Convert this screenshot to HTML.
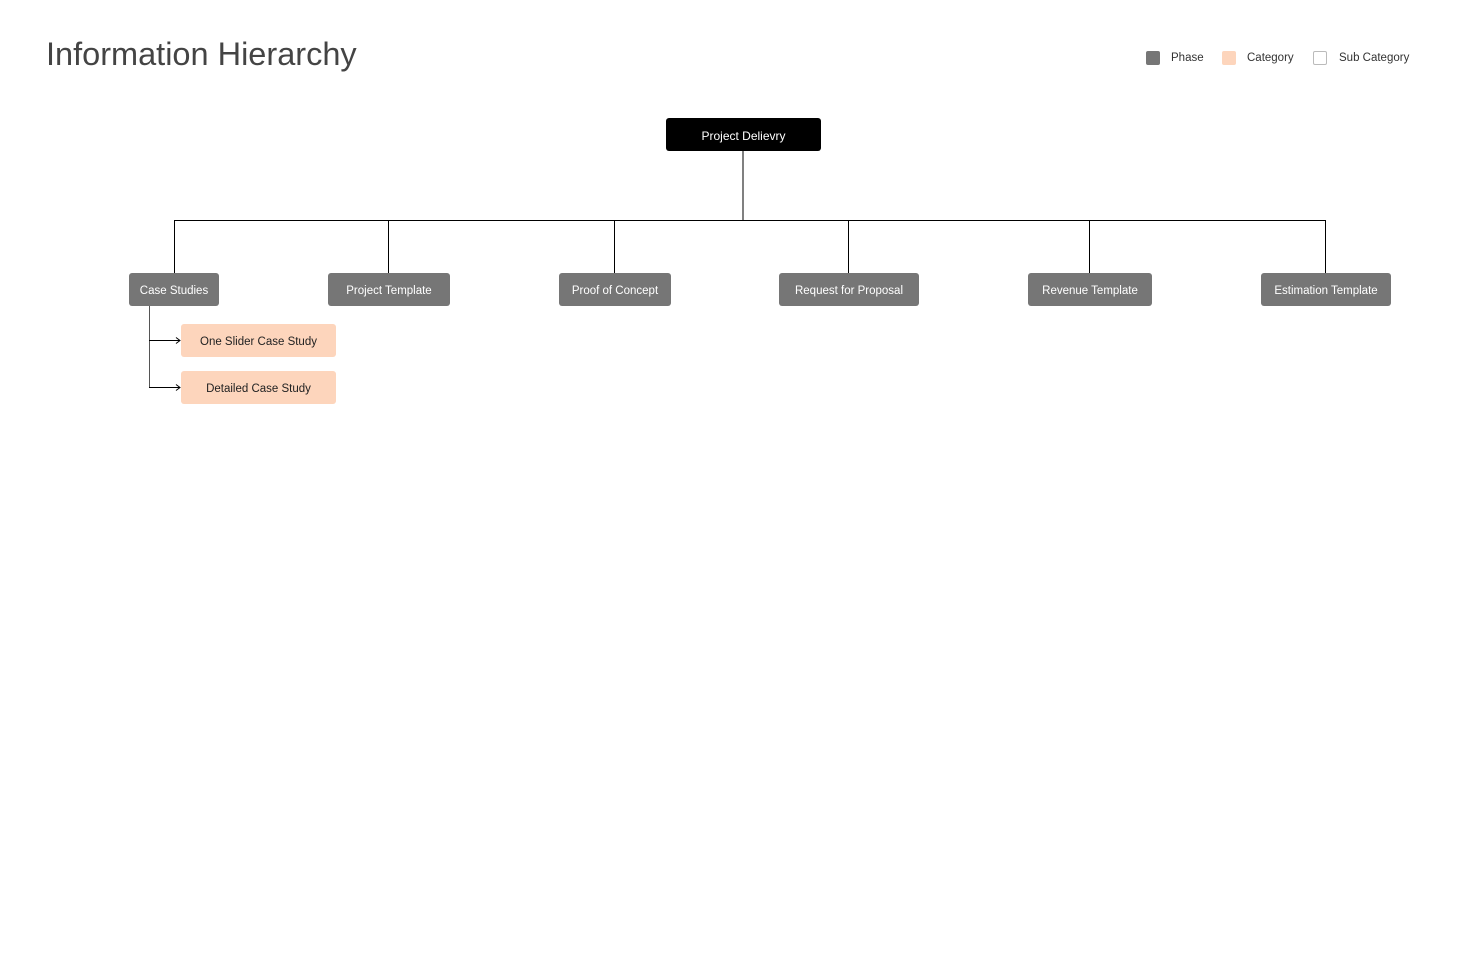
<!DOCTYPE html>
<html><head><meta charset="utf-8"><style>
body{margin:0;width:1459px;height:974px;background:#fff;position:relative;font-family:"Liberation Sans",sans-serif;overflow:hidden}
.b{position:absolute;box-sizing:border-box;display:flex;align-items:center;justify-content:center;font-size:11.5px;border-radius:3px;white-space:nowrap;padding-top:2px}
.p{background:#767676;color:#fff;top:273px;height:33px}
.c{background:#fdd5bc;color:#222;height:33px}
.t{position:absolute;left:46px;top:36px;font-size:32.5px;color:#444}
.lg{position:absolute;top:51px;width:14px;height:14px;border-radius:2px;box-sizing:border-box}
.lt{position:absolute;top:52px;font-size:11.5px;color:#333}
</style></head><body>
<div class="t">Information Hierarchy</div>
<div class="lg" style="left:1146px;background:#767676"></div><div class="lt" style="left:1171px">Phase</div>
<div class="lg" style="left:1222px;background:#fdd5bc"></div><div class="lt" style="left:1247px">Category</div>
<div class="lg" style="left:1313px;border:1px solid #bbb"></div><div class="lt" style="left:1339px">Sub Category</div>
<svg width="1459" height="974" style="position:absolute;left:0;top:0">
<g stroke="#000" stroke-width="1" fill="none">
<line x1="743" y1="151" x2="743" y2="220"/>
<line x1="174" y1="220.5" x2="1326" y2="220.5"/>
<line x1="174.5" y1="220" x2="174.5" y2="273"/>
<line x1="388.5" y1="220" x2="388.5" y2="273"/>
<line x1="614.5" y1="220" x2="614.5" y2="273"/>
<line x1="848.5" y1="220" x2="848.5" y2="273"/>
<line x1="1089.5" y1="220" x2="1089.5" y2="273"/>
<line x1="1325.5" y1="220" x2="1325.5" y2="273"/>
<line x1="149.5" y1="306" x2="149.5" y2="387" stroke="#555"/>
<line x1="149" y1="340.5" x2="180" y2="340.5"/>
<line x1="149" y1="387.5" x2="180" y2="387.5"/>
<polyline points="176,337.5 180,340.5 176,343.5"/>
<polyline points="176,384.5 180,387.5 176,390.5"/>
</g></svg>
<div class="b" style="left:666px;top:118px;width:155px;height:33px;background:#000;color:#fff;font-size:12px">Project Delievry</div>
<div class="b p" style="left:129px;width:90px">Case Studies</div>
<div class="b p" style="left:328px;width:122px">Project Template</div>
<div class="b p" style="left:559px;width:112px">Proof of Concept</div>
<div class="b p" style="left:779px;width:140px">Request for Proposal</div>
<div class="b p" style="left:1028px;width:124px">Revenue Template</div>
<div class="b p" style="left:1261px;width:130px">Estimation Template</div>
<div class="b c" style="left:181px;top:324px;width:155px">One Slider Case Study</div>
<div class="b c" style="left:181px;top:371px;width:155px">Detailed Case Study</div>
</body></html>
